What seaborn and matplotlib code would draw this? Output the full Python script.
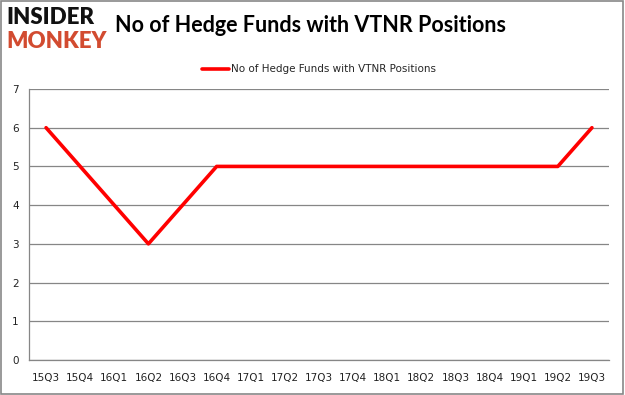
import numpy as np
import pandas as pd
import matplotlib
matplotlib.use("Agg")
import matplotlib.pyplot as plt
import seaborn as sns

# donnees
quarters = ["15Q3", "15Q4", "16Q1", "16Q2", "16Q3", "16Q4", "17Q1", "17Q2", "17Q3",
            "17Q4", "18Q1", "18Q2", "18Q3", "18Q4", "19Q1", "19Q2", "19Q3"]
funds = [6, 5, 4, 3, 4, 5, 5, 5, 5, 5, 5, 5, 5, 5, 5, 5, 6]
series_name = "No of Hedge Funds with VTNR Positions"

df = pd.DataFrame({"quarter": quarters, "funds": funds})

sns.set_style("white")
plt.rcParams['font.family'] = ['DejaVu Sans']

fig = plt.figure(figsize=(6.25, 3.95), dpi=100)
ax = fig.add_axes([0.0464, 0.0886, 0.928, 0.6861])

sns.lineplot(data=df, x="quarter", y="funds", color="#ff0000", linewidth=2.6,
             ax=ax, label=series_name, sort=False)

ax.set_xlim(-0.5, len(quarters) - 0.5)
ax.set_ylim(0, 7)
ax.set_yticks(range(0, 8))
ax.set_xlabel("")
ax.set_ylabel("")
ax.grid(axis="y", color="#868686", linewidth=0.9)
ax.set_axisbelow(True)

# ticks aux bords des categories (style Excel)
ax.set_xticks(np.arange(-0.5, len(quarters), 1.0), minor=True)
ax.tick_params(axis="x", which="major", length=0, pad=9, labelsize=7.5, labelcolor="#222222")
ax.tick_params(axis="x", which="minor", length=4, color="#868686", width=0.9)
ax.tick_params(axis="y", length=4, color="#868686", width=0.9, labelsize=7.5, labelcolor="#222222")

for s in ["top", "right"]:
    ax.spines[s].set_visible(False)
for s in ["left", "bottom"]:
    ax.spines[s].set_color("#868686")
    ax.spines[s].set_linewidth(0.9)

# legende
ax.legend(loc="lower center", bbox_to_anchor=(0.5, 1.02), frameon=False,
          fontsize=7.5, handlelength=2.6, handletextpad=0.2)

# titre + logo
fig.text(0.184, 0.935, series_name, fontsize=15.5, fontweight="bold", va="center", ha="left",
         family=["Lato", "DejaVu Sans"], color="black")
fig.text(0.01, 0.955, "INSIDER", fontsize=16, fontweight="heavy", color="#111111",
         va="center", ha="left", family=["Lato", "DejaVu Sans"])
fig.text(0.01, 0.895, "MONKEY", fontsize=16, fontweight="heavy", color="#d24b30",
         va="center", ha="left", family=["Lato", "DejaVu Sans"])

# cadre gris
fig.patches.append(plt.Rectangle((0.002, 0.003), 0.995, 0.994, transform=fig.transFigure,
                                 fill=False, edgecolor="#888888", linewidth=1.2))

fig.savefig("out.png", dpi=100)
